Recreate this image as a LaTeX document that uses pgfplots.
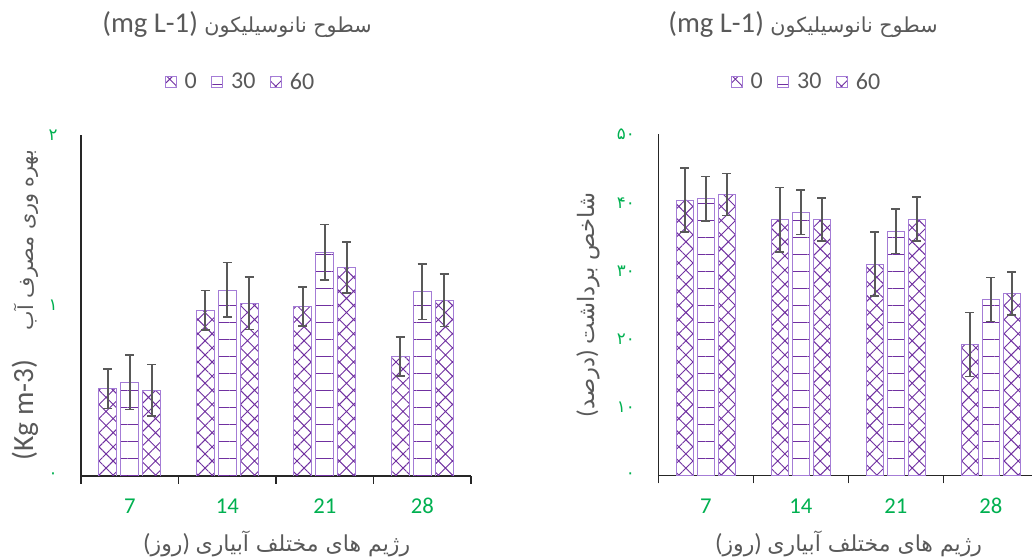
\documentclass[border=0pt]{standalone}
\usepackage{pgfplots}
\pgfplotsset{compat=1.18}
\usetikzlibrary{patterns.meta}
\usepackage{fontspec}
\setmainfont{Carlito}
\newfontfamily\arabicfont[Script=Arabic]{DejaVu Sans}
\TeXXeTstate=1
\definecolor{txtgray}{HTML}{595959}
\definecolor{tickgreen}{HTML}{00B050}
\definecolor{patpurple}{HTML}{7030A0}
\definecolor{barborder}{HTML}{A47CD6}
\definecolor{errgray}{HTML}{595959}
\definecolor{axgray}{HTML}{262626}

\pgfplotsset{
  crossbar/.style={draw=barborder, line width=0.6pt,
    pattern={Hatch[angle=45,distance=7.5pt,line width=0.7pt]}, pattern color=patpurple},
  linebar/.style={draw=barborder, line width=0.6pt,
    pattern={Lines[angle=0,distance=12.75pt,line width=0.7pt]}, pattern color=patpurple},
  errs/.style={error bars/.cd, y dir=both, y explicit,
    error bar style={line width=1.2pt, draw=errgray, solid},
    error mark options={rotate=90, mark size=3.5pt, line width=1.2pt, draw=errgray}},
  common/.style={
    scale only axis,
    xmin=-0.5, xmax=3.5, ymin=0,
    axis x line*=bottom, axis y line*=left,
    axis line style={-, line width=0.8pt, axgray},
    xtick={0,1,2,3}, xticklabels={7,14,21,28},
    minor xtick={-0.5,0.5,1.5,2.5,3.5},
    major tick length=0pt, minor tick length=6pt, tick align=outside,
    minor x tick style={line width=0.8pt, axgray},
    xticklabel style={text=tickgreen, font=\fontsize{17}{20}\selectfont, anchor=base, yshift=-28.5pt},
    yticklabel style={text=tickgreen, font=\arabicfont\fontsize{12.5}{14}\selectfont, xshift=-14pt},
    legend style={draw=none, fill=none, legend columns=-1, anchor=center,
      font=\fontsize{18}{21}\selectfont, text=txtgray, inner sep=0pt,
      /tikz/every odd column/.append style={column sep=4pt},
      /tikz/every even column/.append style={column sep=9pt}},
  },
  sqlegend/.style={
    legend image code/.code={\draw[##1, draw=barborder, line width=0.6pt] (0pt,-4.1pt) rectangle (8.2pt,4.1pt);},
  },
}

\begin{document}
\begin{tikzpicture}
\useasboundingbox (0,0) rectangle (774pt,420pt);
\begin{scope}
\clip (0,0) rectangle (774pt,420pt);

% ---------------- left chart ----------------
\begin{axis}[common,
  at={(60.75pt,63pt)}, anchor=south west,
  width=292.5pt, height=255.75pt,
  ybar=3pt, bar width=13.5pt, sqlegend,
  ymax=2, ytick={0,1,2}, yticklabels={۰,۱,۲},
  legend style={at={(0.41,1.155)}},
]
\addplot[crossbar, errs] coordinates {(0,0.512) +- (0,0.115) (1,0.972) +- (0,0.115) (2,0.993) +- (0,0.115) (3,0.702) +- (0,0.114)};
\addplot[linebar, errs] coordinates {(0,0.550) +- (0,0.161) (1,1.091) +- (0,0.160) (2,1.312) +- (0,0.162) (3,1.081) +- (0,0.162)};
\addplot[crossbar, errs] coordinates {(0,0.503) +- (0,0.152) (1,1.013) +- (0,0.154) (2,1.224) +- (0,0.150) (3,1.030) +- (0,0.154)};
\legend{0,30,60}
\end{axis}

% ---------------- right chart ----------------
\begin{axis}[common,
  at={(493.7pt,63.4pt)}, anchor=south west,
  width=285pt, height=255.75pt,
  ybar=3pt, bar width=12.75pt, sqlegend,
  ymax=50, ytick={0,10,20,30,40,50}, yticklabels={۰,۱۰,۲۰,۳۰,۴۰,۵۰},
  legend style={at={(0.391,1.154)}},
]
\addplot[crossbar, errs] coordinates {(0,40.4) +- (0,4.7) (1,37.5) +- (0,4.7) (2,31.0) +- (0,4.7) (3,19.2) +- (0,4.7)};
\addplot[linebar, errs] coordinates {(0,40.6) +- (0,3.25) (1,38.6) +- (0,3.25) (2,35.8) +- (0,3.25) (3,25.8) +- (0,3.25)};
\addplot[crossbar, errs] coordinates {(0,41.2) +- (0,3.1) (1,37.5) +- (0,3.15) (2,37.6) +- (0,3.2) (3,26.7) +- (0,3.15)};
\legend{0,30,60}
\end{axis}

% titles
\node[text=txtgray, font=\fontsize{21.5}{24}\selectfont] at (177.75pt,401.25pt)
  {(mg L-1) {\arabicfont\fontsize{15.5}{18}\selectfont\beginR سطوح نانوسیلیکون\endR}};
\node[text=txtgray, font=\fontsize{21.5}{24}\selectfont] at (602.25pt,401.25pt)
  {(mg L-1) {\arabicfont\fontsize{15.5}{18}\selectfont\beginR سطوح نانوسیلیکون\endR}};

% x labels
\node[text=txtgray, font=\fontsize{18.5}{21}\selectfont] at (207.5pt,12pt)
  {({\arabicfont\fontsize{16.5}{19}\selectfont\beginR روز\endR}) {\arabicfont\fontsize{16.5}{19}\selectfont\beginR رژیم های مختلف آبیاری\endR}};
\node[text=txtgray, font=\fontsize{18.5}{21}\selectfont] at (636.4pt,12pt)
  {({\arabicfont\fontsize{16.5}{19}\selectfont\beginR روز\endR}) {\arabicfont\fontsize{16.5}{19}\selectfont\beginR رژیم های مختلف آبیاری\endR}};

% y labels
\node[text=txtgray, rotate=90, font=\fontsize{22}{25}\selectfont] at (18.75pt,191.25pt)
  {(Kg m-3)\quad{\arabicfont\fontsize{15.5}{18}\selectfont\beginR بهره وری مصرف آب\endR}};
\node[text=txtgray, rotate=90, font=\fontsize{19}{22}\selectfont] at (441.2pt,191.25pt)
  {({\arabicfont\fontsize{17}{20}\selectfont\beginR درصد\endR}) {\arabicfont\fontsize{17}{20}\selectfont\beginR شاخص برداشت\endR}};
\end{scope}
\end{tikzpicture}
\end{document}
